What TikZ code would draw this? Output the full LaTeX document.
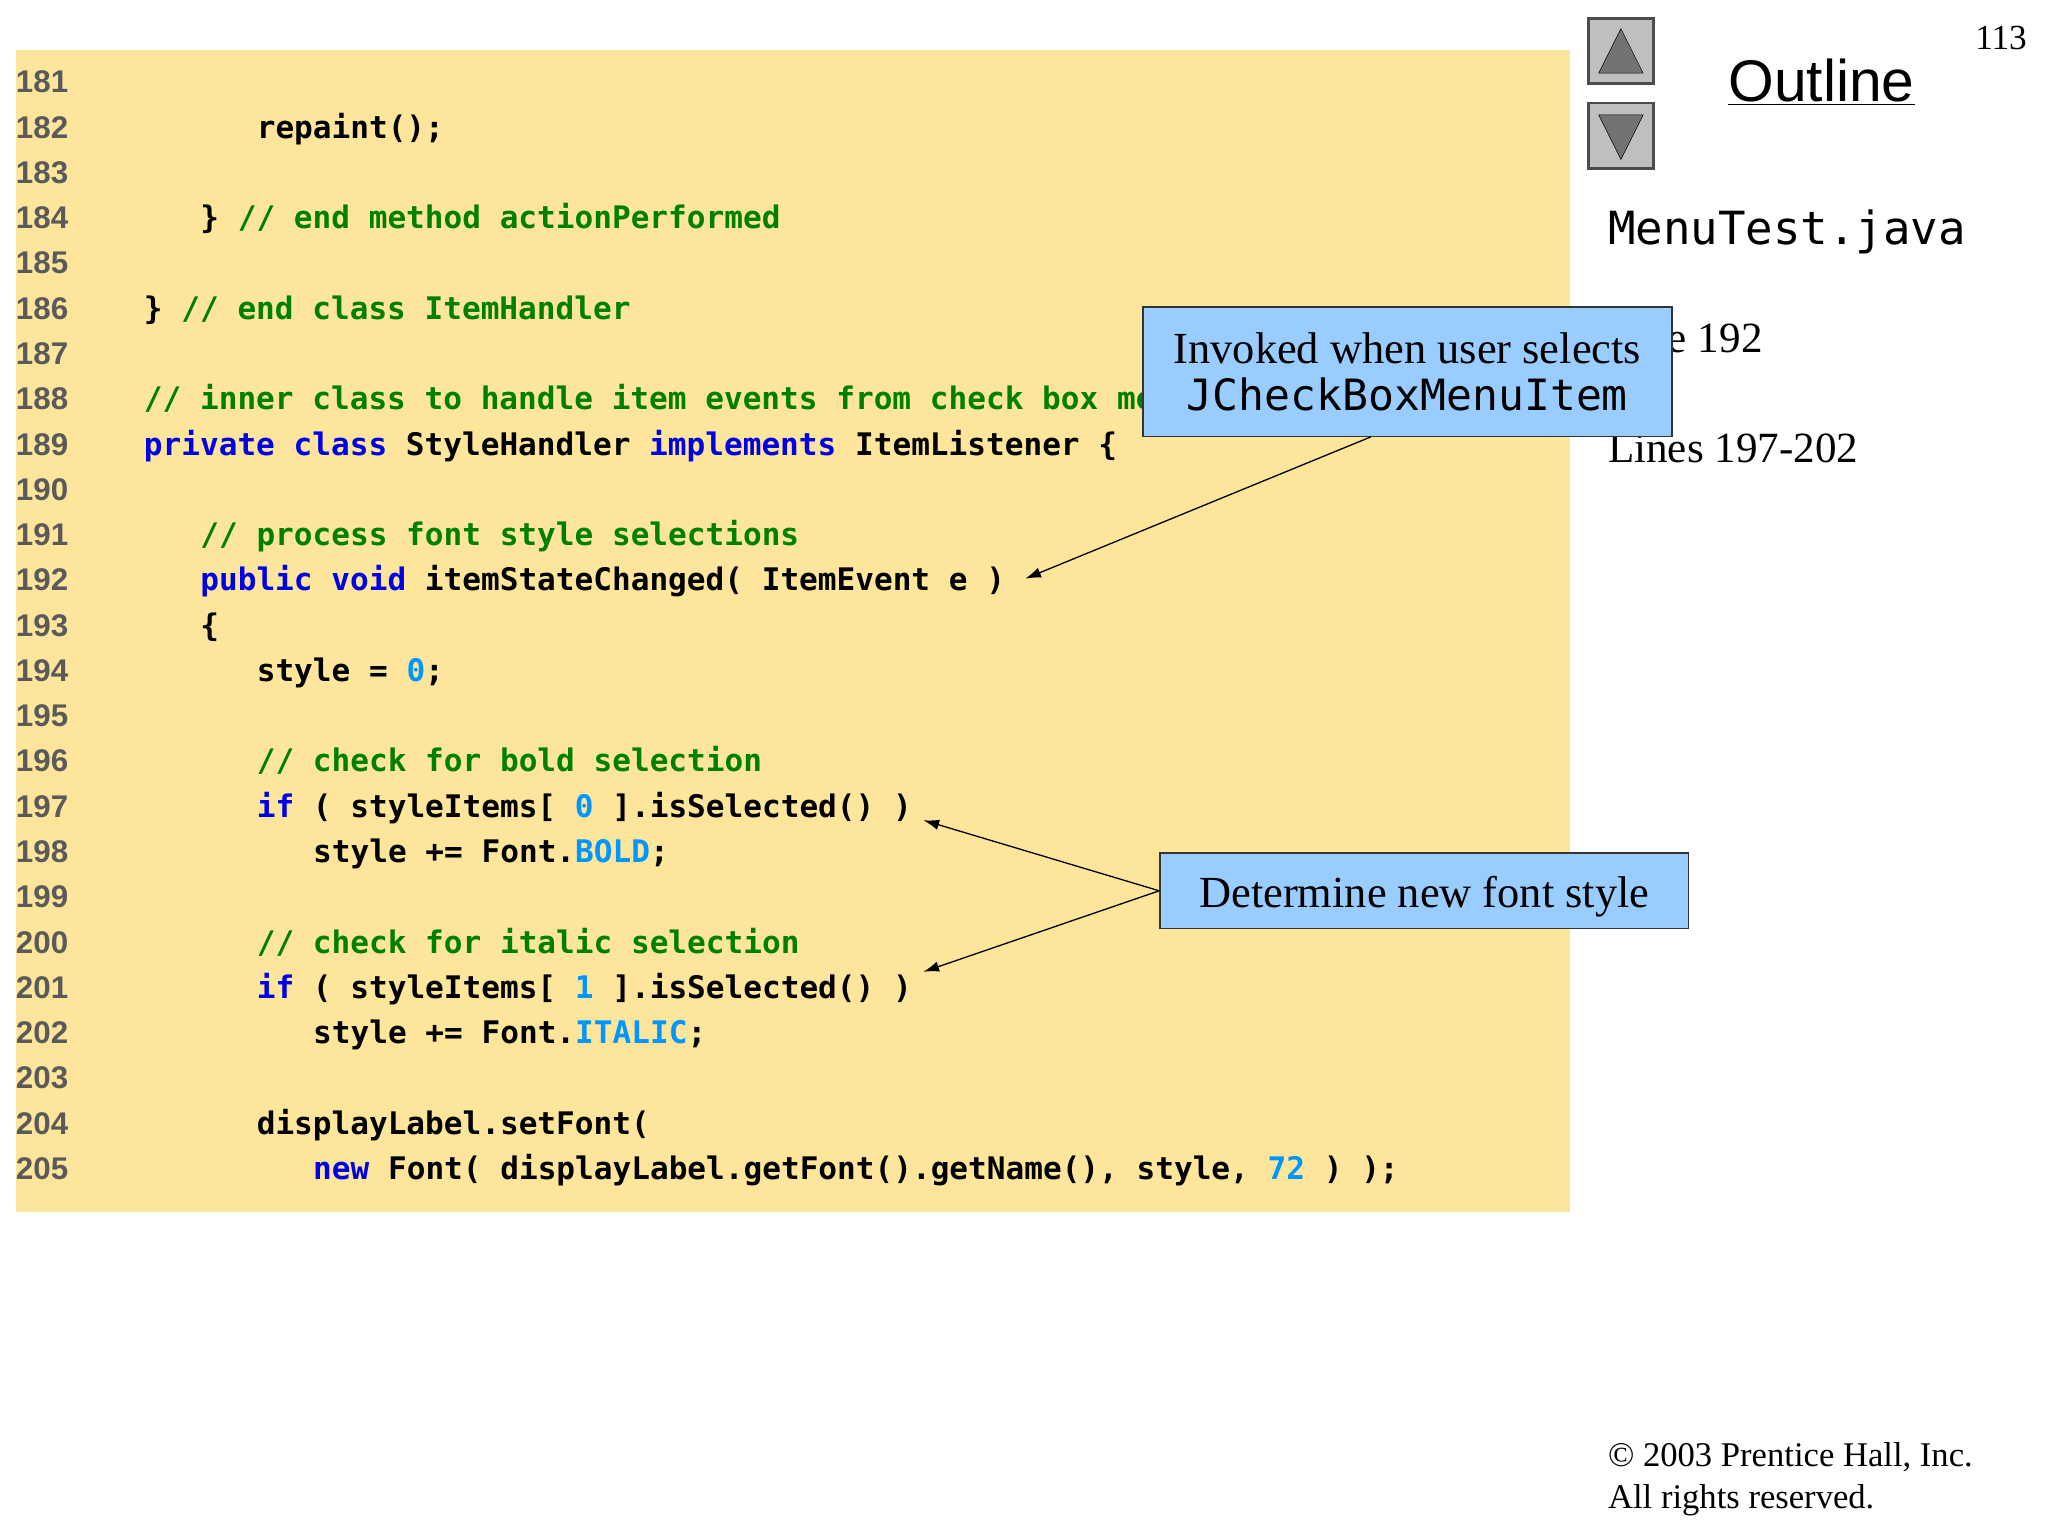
\documentclass[tikz,border=0pt]{standalone}
\usepackage{fontspec}
\usetikzlibrary{arrows.meta}
\setmainfont{Liberation Serif}
\newfontfamily\codef{DejaVu Sans Mono}
\newfontfamily\sansf{Liberation Sans}
\begin{document}
\definecolor{bgy}{RGB}{253,230,155}
\definecolor{kwc}{RGB}{0,0,230}
\definecolor{cmc}{RGB}{0,128,0}
\definecolor{nmc}{RGB}{0,150,255}
\definecolor{lnc}{RGB}{90,90,90}
\definecolor{callc}{RGB}{153,204,255}
\newcommand\kw[1]{\textcolor{kwc}{#1}}
\newcommand\cm[1]{\textcolor{cmc}{#1}}
\newcommand\nm[1]{\textcolor{nmc}{#1}}
\begin{tikzpicture}[x=1pt,y=-1pt,
  code/.style={anchor=base west,inner sep=0,font=\codef\bfseries\fontsize{23.8}{26}\selectfont},
  lnum/.style={anchor=base west,inner sep=0,text=lnc,font=\sansf\bfseries\fontsize{24}{26}\selectfont},
  call/.style={draw=black!80,fill=callc,line width=1pt,inner sep=4pt,align=center,font=\fontsize{34}{38}\selectfont},
  arr/.style={-{Latex[length=12pt,width=8pt]},line width=1pt},
  btn/.style={draw=black!70,fill=black!25,line width=2pt,minimum width=50pt,minimum height=50pt}]
\useasboundingbox (0,0) rectangle (1568,1176);
\fill[bgy] (12,38) rectangle (1202,928);
\foreach \n [count=\i from 0] in {181,...,205}{
  \node[lnum] (l\n) at (12,{71+34.67*\i}) {\n};
}
\def\cx#1{110+14.4*#1}
\node[code] (c182) at ({\cx{6}},{71+34.67*1}) {repaint();};
\node[code] (c184) at ({\cx{3}},{71+34.67*3}) {\} \cm{// end method actionPerformed}};
\node[code] (c186) at ({\cx{0}},{71+34.67*5}) {\} \cm{// end class ItemHandler}};
\node[code] (c188) at ({\cx{0}},{71+34.67*7}) {\cm{// inner class to handle item events from check box menu items}};
\node[code] (c189) at ({\cx{0}},{71+34.67*8}) {\kw{private} \kw{class} StyleHandler \kw{implements} ItemListener \{};
\node[code] (c191) at ({\cx{3}},{71+34.67*10}) {\cm{// process font style selections}};
\node[code] (c192) at ({\cx{3}},{71+34.67*11}) {\kw{public} \kw{void} itemStateChanged( ItemEvent e )};
\node[code] (c193) at ({\cx{3}},{71+34.67*12}) {\{};
\node[code] (c194) at ({\cx{6}},{71+34.67*13}) {style = \nm{0};};
\node[code] (c196) at ({\cx{6}},{71+34.67*15}) {\cm{// check for bold selection}};
\node[code] (c197) at ({\cx{6}},{71+34.67*16}) {\kw{if} ( styleItems[ \nm{0} ].isSelected() )};
\node[code] (c198) at ({\cx{9}},{71+34.67*17}) {style += Font.\nm{BOLD};};
\node[code] (c200) at ({\cx{6}},{71+34.67*19}) {\cm{// check for italic selection}};
\node[code] (c201) at ({\cx{6}},{71+34.67*20}) {\kw{if} ( styleItems[ \nm{1} ].isSelected() )};
\node[code] (c202) at ({\cx{9}},{71+34.67*21}) {style += Font.\nm{ITALIC};};
\node[code] (c204) at ({\cx{6}},{71+34.67*23}) {displayLabel.setFont(};
\node[code] (c205) at ({\cx{9}},{71+34.67*24}) {\kw{new} Font( displayLabel.getFont().getName(), style, \nm{72} ) );};
% right side
\node[btn] (up) at (1241,39) {};
\fill[black!55,draw=black] (1241,22) -- (1258,56) -- (1224,56) -- cycle;
\node[btn] (dn) at (1241,104) {};
\fill[black!55,draw=black] (1224,88) -- (1258,88) -- (1241,122) -- cycle;
\node[anchor=base west,inner sep=0,font=\sansf\fontsize{45}{48}\selectfont] (outl) at (1323,78) {\underline{Outline}};
\node[anchor=base east,inner sep=0,font=\fontsize{27}{30}\selectfont] (pg) at (1552,38) {113};
\node[anchor=base west,inner sep=0,font=\codef\fontsize{35}{40}\selectfont] (fn) at (1231,187) {MenuTest.java};
\node[anchor=base west,inner sep=0,font=\fontsize{33}{36}\selectfont] (ln1) at (1231,270) {Line 192};
\node[anchor=base west,inner sep=0,font=\fontsize{33}{36}\selectfont] (ln2) at (1231,354) {Lines 197-202};
\node[anchor=base west,inner sep=0,font=\fontsize{26.5}{30}\selectfont] (cp1) at (1231,1123) {\textcopyright{} 2003 Prentice Hall, Inc.};
\node[anchor=base west,inner sep=0,font=\fontsize{26.5}{30}\selectfont] (cp2) at (1231,1155) {All rights reserved.};
% callouts
\node[call,minimum width=405pt,minimum height=99pt] (b1) at (1077.5,284.5) {Invoked when user selects\\[-2pt]{\codef\fontsize{33}{36}\selectfont JCheckBoxMenuItem}};
\node[call,minimum width=405pt,minimum height=58pt,text depth=2pt] (b2) at (1090.5,682) {\raisebox{-3pt}{Determine new font style}};
\coordinate (a1) at (785,443);
\coordinate (a2) at (707,628);
\coordinate (a3) at (707,744);
\draw[arr] (b1.south) ++(-28,0) -- (a1);
\draw[arr] (b2.west) -- (a2);
\draw[arr] (b2.west) -- (a3);
\end{tikzpicture}
\end{document}
